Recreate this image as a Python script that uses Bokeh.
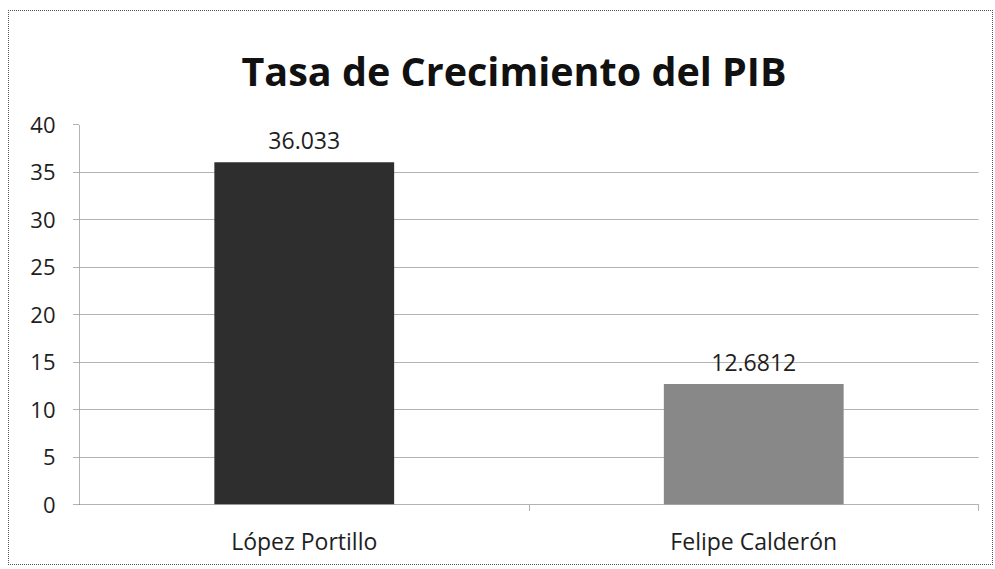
from bokeh.plotting import figure
from bokeh.models import Range1d, FixedTicker, ColumnDataSource, LinearAxis
from bokeh.core.properties import value
from bokeh.embed import file_html
from bokeh.resources import INLINE

categories = ["López Portillo", "Felipe Calderón"]
values = [36.033, 12.6812]
value_labels = ["36.033", "12.6812"]
bar_colors = ["#2e2e2e", "#888888"]
y_ticks = [0, 5, 10, 15, 20, 25, 30, 35, 40]
title_text = "Tasa de Crecimiento del PIB"

FONT = "Open Sans"
AXIS_COL = "#666666"
TEXT_COL = "#1e1e1e"

n = len(categories)
centers = [i + 0.5 for i in range(n)]
bounds = [i + 1 for i in range(n)]

src = ColumnDataSource(dict(x=centers, val=values, lab=value_labels, col=bar_colors))

p = figure(
    width=985, height=555,
    x_range=Range1d(0, n),
    y_range=Range1d(0, 40),
    x_axis_location=None,
    output_backend="svg", toolbar_location=None,
    min_border_left=70, min_border_right=16, min_border_top=113, min_border_bottom=62,
)
p.styles = {"border": "1px dotted #555", "margin-left": "8px", "margin-top": "10px"}

p.title.text = title_text
p.title.align = "left"
p.title.offset = 162
p.title.text_font = FONT
p.title.text_font_size = "39.5px"
p.title.text_font_style = "bold"
p.title.text_color = "#111111"
p.title.standoff = 54

p.vbar(x="x", top="val", width=0.4, source=src, fill_color="col", line_color=None)
p.text(x="x", y="val", text="lab", source=src, text_align="center", text_baseline="bottom",
       y_offset=-13, text_font=value(FONT), text_font_size="23px", text_color=TEXT_COL)

p.outline_line_color = None
p.xgrid.grid_line_color = None
p.ygrid.ticker = FixedTicker(ticks=y_ticks)
p.ygrid.grid_line_color = AXIS_COL
p.ygrid.grid_line_dash = "1 1"
p.ygrid.grid_line_width = 1

p.yaxis.ticker = FixedTicker(ticks=y_ticks)
p.yaxis.axis_line_color = AXIS_COL
p.yaxis.axis_line_dash = "1 1"
p.yaxis.major_tick_line_color = AXIS_COL
p.yaxis.major_tick_line_dash = "1 1"
p.yaxis.major_tick_in = 0
p.yaxis.major_tick_out = 6
p.yaxis.minor_tick_line_color = None
p.yaxis.major_label_text_font = FONT
p.yaxis.major_label_text_font_size = "22px"
p.yaxis.major_label_text_color = TEXT_COL
p.yaxis.major_label_standoff = 18

# x axis line with ticks at category boundaries
bound_axis = LinearAxis(ticker=FixedTicker(ticks=bounds),
                        axis_line_color=AXIS_COL, axis_line_dash="1 1",
                        major_tick_line_color=AXIS_COL, major_tick_line_dash="1 1",
                        major_tick_in=0, major_tick_out=6, minor_tick_line_color=None,
                        major_label_overrides={b: "" for b in bounds},
                        major_label_text_font_size="1px", major_label_standoff=0)
p.add_layout(bound_axis, "below")

# category names centred under the bars
cat_axis = LinearAxis(ticker=FixedTicker(ticks=centers),
                      major_label_overrides={c: name for c, name in zip(centers, categories)},
                      axis_line_color=None, major_tick_line_color=None,
                      minor_tick_line_color=None,
                      major_label_text_font=FONT, major_label_text_font_size="23px",
                      major_label_text_color=TEXT_COL, major_label_standoff=8)
p.add_layout(cat_axis, "below")

open("out.html", "w").write(file_html(p, INLINE))
